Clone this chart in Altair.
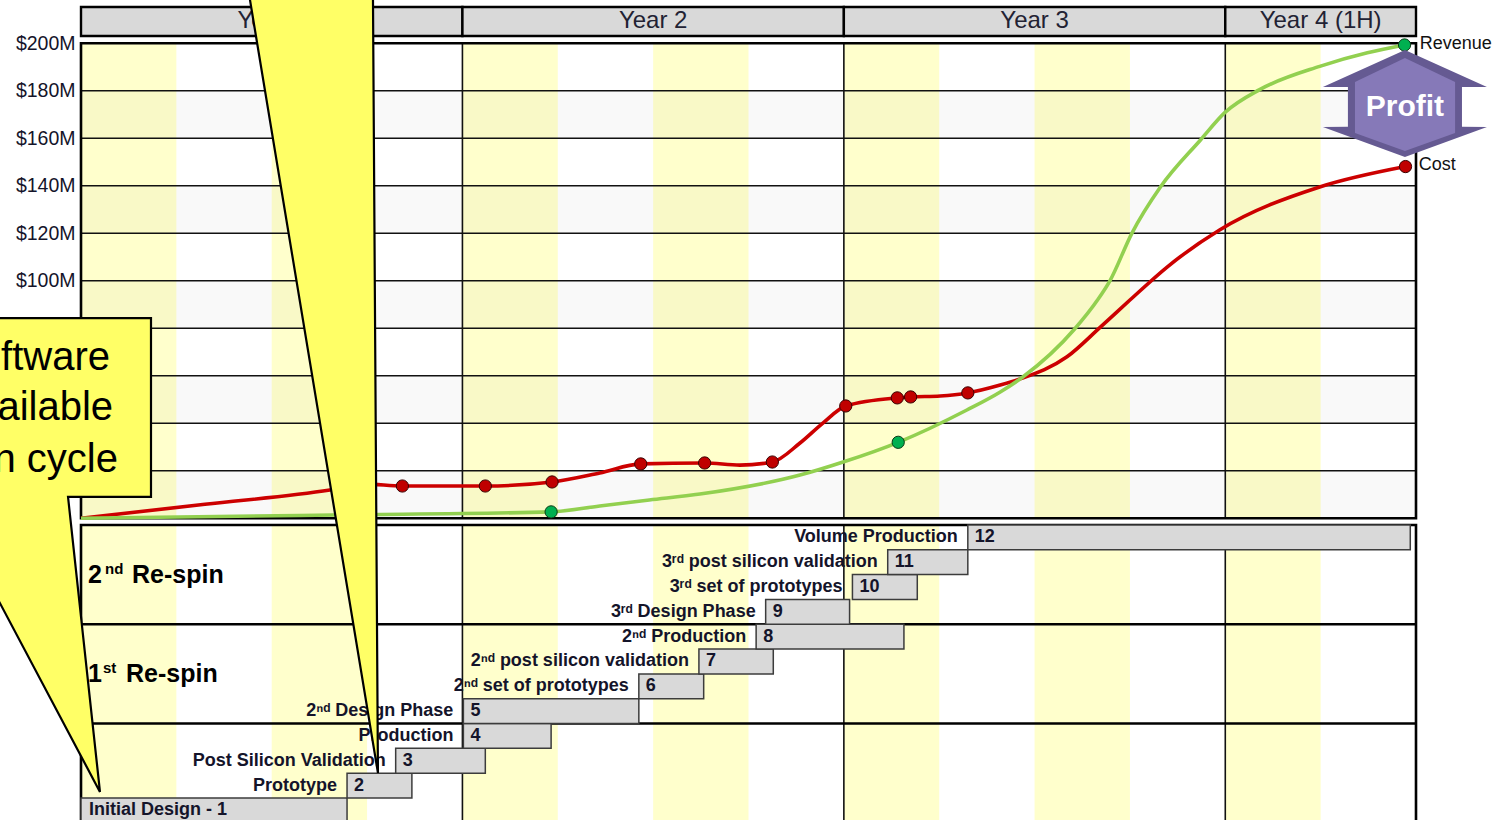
import altair as alt
import pandas as pd

FONT = "Liberation Sans"
INK = "#14142a"

# ------------------------------------------------------------------
# Values
# ------------------------------------------------------------------
year_labels = ["Year 1", "Year 2", "Year 3", "Year 4 (1H)"]
year_start_q = [0, 4, 8, 12]
year_end_q = [4, 8, 12, 14]

money_ticks = [0, 20, 40, 60, 80, 100, 120, 140, 160, 180, 200]
money_labels = [100, 120, 140, 160, 180, 200]

# cumulative cost ($M) against quarters from project start
cost_curve_q = [0, 1.3, 2.61, 2.98, 3.37, 4.24, 4.94, 5.44, 5.87, 6.54, 6.91, 7.25,
                7.54, 7.78, 8.02, 8.56, 8.70, 9.01, 9.30, 9.64, 9.85, 10.34, 10.69,
                11.00, 11.39, 11.94, 12.99, 13.89]
cost_curve_m = [0, 5.9, 11.9, 14.4, 13.6, 13.6, 15.3, 19.1, 22.9, 23.3, 22.4, 23.7,
                31.7, 40.1, 47.3, 50.7, 51.1, 51.5, 52.8, 56.1, 58.7, 68.0, 80.5,
                91.9, 105.8, 121.4, 139.5, 148.1]
cost_marker_q = [3.37, 4.24, 4.94, 5.87, 6.54, 7.25, 8.02, 8.56, 8.70, 9.30, 13.89]
cost_marker_m = [13.6, 13.6, 15.3, 22.9, 23.3, 23.7, 47.3, 50.7, 51.1, 52.8, 148.1]

# cumulative revenue ($M)
rev_curve_q = [0, 2.64, 4.93, 5.44, 5.96, 6.49, 7.54, 8.00, 8.57, 9.29, 9.64, 9.88,
               10.42, 10.66, 10.79, 11.02, 11.32, 11.74, 12.00, 12.36, 12.99, 13.49,
               13.88]
rev_curve_m = [0, 1.4, 2.7, 5.2, 7.7, 10.2, 18.2, 23.8, 32.0, 45.6, 53.2, 59.6,
               79.7, 91.9, 100.0, 120.0, 139.5, 159.3, 171.0, 180.5, 190.3, 196.0,
               199.3]
rev_marker_q = [4.93, 8.57, 13.88]
rev_marker_m = [2.7, 32.0, 199.3]

# project phases (row 1 at the bottom)
phase_labels = ["Initial Design - 1", "Prototype", "Post Silicon Validation",
                "Production", "2\u207f\u1d48 Design Phase",
                "2\u207f\u1d48 set of prototypes",
                "2\u207f\u1d48 post silicon validation", "2\u207f\u1d48 Production",
                "3\u02b3\u1d48  Design Phase", "3\u02b3\u1d48 set of prototypes",
                "3\u02b3\u1d48 post silicon validation", "Volume Production"]
phase_numbers = ["1", "2", "3", "4", "5", "6", "7", "8", "9", "10", "11", "12"]
phase_start_q = [0, 2.79, 3.30, 4.01, 4.01, 5.85, 6.48, 7.08, 7.18, 8.09, 8.46, 9.30]
phase_end_q = [2.79, 3.47, 4.24, 4.93, 5.85, 6.53, 7.26, 8.63, 8.06, 8.77, 9.30, 13.94]
phase_row = list(range(1, 13))

# re-spin sections of the phase table
section_big = ["2", "1"]
section_sup = ["nd", "st"]
section_row = [10, 6]
section_dividers = [4, 8]

# ------------------------------------------------------------------
# Layout
# ------------------------------------------------------------------
W, H = 1335, 820
Q_MAX = 14
ZERO_PX, PX_PER_M = 518.3, 2.375          # $0M position and $M pitch
M_TOP = ZERO_PX / PX_PER_M
M_BOTTOM = (ZERO_PX - H) / PX_PER_M
ROW0_PX, PX_PER_ROW = 822.8, 24.82        # phase table baseline and row pitch
R_TOP = ROW0_PX / PX_PER_ROW
R_BOTTOM = (ROW0_PX - H) / PX_PER_ROW
HEADER_LO, HEADER_HI = 203.1, 215.3       # year strip, in $M units
TABLE_TOP = 12

xq = alt.Scale(domain=[0, Q_MAX], nice=False, zero=False)
ym = alt.Scale(domain=[M_BOTTOM, M_TOP], nice=False, zero=False)
yr = alt.Scale(domain=[R_BOTTOM, R_TOP], nice=False, zero=False)


def X(f):
    return alt.X(f"{f}:Q", scale=xq, axis=None, title=None)


def YM(f, axis=None):
    return alt.Y(f"{f}:Q", scale=ym, axis=axis, title=None)


def YR(f):
    return alt.Y(f"{f}:Q", scale=yr, axis=None, title=None)


# ------------------------------------------------------------------
# Frames
# ------------------------------------------------------------------
band_q0 = [q for q in range(0, Q_MAX, 2)]
plot_bands = pd.DataFrame({"q0": band_q0, "q1": [q + 1 for q in band_q0],
                           "m0": 0, "m1": 200, "r0": 0, "r1": TABLE_TOP})
shade = pd.DataFrame({"m0": money_ticks[0:-1:2], "m1": money_ticks[1::2]})
grid = pd.DataFrame({"m": money_ticks})
years = pd.DataFrame({"label": year_labels, "q0": year_start_q, "q1": year_end_q,
                      "m0": HEADER_LO, "m1": HEADER_HI})
years["qm"] = (years.q0 + years.q1) / 2
years["mm"] = (HEADER_LO + HEADER_HI) / 2
year_lines = pd.DataFrame({"q": year_start_q[1:], "m0": 0, "m1": 200,
                           "r0": 0, "r1": TABLE_TOP})
box = pd.DataFrame({"q0": [0], "q1": [Q_MAX], "m0": [0], "m1": [200],
                    "r0": [0], "r1": [TABLE_TOP]})

yellow_plot = alt.Chart(plot_bands).mark_rect(color="#ffffcc").encode(
    x=X("q0"), x2="q1", y=YM("m0"), y2="m1")
shade_layer = alt.Chart(shade).mark_rect(color="#000000", opacity=0.022).encode(
    x=alt.X("lo:Q", scale=xq, axis=None), x2="hi:Q", y=YM("m0"), y2="m1"
).transform_calculate(lo="0", hi=str(Q_MAX))
grid_layer = alt.Chart(grid).mark_rule(color="#111111", strokeWidth=1.6).encode(
    y=YM("m", axis=alt.Axis(values=money_labels, labelExpr="'$' + datum.value + 'M'",
                            labelFont=FONT, labelFontSize=19.5, labelColor=INK,
                            ticks=False, domain=False, grid=False, labelPadding=6,
                            labelOverlap=False, labelFlush=False, labelBound=False)))
year_rules_plot = alt.Chart(year_lines).mark_rule(color="#111111", strokeWidth=1.6).encode(
    x=X("q"), y=YM("m0"), y2="m1")
plot_box = alt.Chart(box).mark_rect(fillOpacity=0, stroke="#000000", strokeWidth=2.6).encode(
    x=X("q0"), x2="q1", y=YM("m0"), y2="m1")

header = alt.Chart(years).mark_rect(color="#d9d9d9", stroke="#000000", strokeWidth=2.4).encode(
    x=X("q0"), x2="q1", y=YM("m0"), y2="m1")
header_text = alt.Chart(years).mark_text(font=FONT, fontSize=24, color="#222233",
                                         baseline="middle", align="center").encode(
    x=X("qm"), y=YM("mm"), text="label:N")

# ------------------------------------------------------------------
# Phase table
# ------------------------------------------------------------------
phases = pd.DataFrame({"label": phase_labels, "num": phase_numbers,
                       "q0": phase_start_q, "q1": phase_end_q, "row": phase_row})
phases["r0"] = phases.row - 1
phases["rm"] = phases.row - 0.5

yellow_table = alt.Chart(plot_bands).mark_rect(color="#ffffcc").encode(
    x=X("q0"), x2="q1", y=YR("r0"), y2="r1")
year_rules_table = alt.Chart(year_lines).mark_rule(color="#111111", strokeWidth=1.6).encode(
    x=X("q"), y=YR("r0"), y2="r1")
dividers = alt.Chart(pd.DataFrame({"r": section_dividers})).mark_rule(
    color="#000000", strokeWidth=2.6).encode(y=YR("r"))
table_box = alt.Chart(box).mark_rect(fillOpacity=0, stroke="#000000", strokeWidth=2.6).encode(
    x=X("q0"), x2="q1", y=YR("r0"), y2="r1")
bars = alt.Chart(phases).mark_rect(color="#d9d9d9", stroke="#3c3c3c", strokeWidth=1.5).encode(
    x=X("q0"), x2="q1", y=YR("r0"), y2="row")
label_style = dict(font=FONT, fontSize=18, fontWeight="bold", color=INK, baseline="middle")
bar_labels = alt.Chart(phases).transform_filter("datum.row > 1").mark_text(
    align="right", dx=-10, **label_style).encode(x=X("q0"), y=YR("rm"), text="label:N")
first_label = alt.Chart(phases).transform_filter("datum.row == 1").mark_text(
    align="left", dx=8, **label_style).encode(x=X("q0"), y=YR("rm"), text="label:N")
bar_numbers = alt.Chart(phases).transform_filter("datum.row > 1").mark_text(
    align="left", dx=7, **label_style).encode(x=X("q0"), y=YR("rm"), text="num:N")

sections = pd.DataFrame({"big": section_big, "sup": section_sup, "r": section_row,
                         "word": "Re-spin", "q": 0})
sec_style = dict(font=FONT, fontWeight="bold", color="#000000", align="left",
                 baseline="middle")
sec_layers = []
for i, (sup_dx, word_dx) in enumerate([(24, 51), (22, 45)]):
    one = alt.Chart(sections.iloc[[i]])
    sec_layers += [
        one.mark_text(fontSize=25, dx=7, **sec_style).encode(
            x=X("q"), y=YR("r"), text="big:N"),
        one.mark_text(fontSize=15, dx=sup_dx, dy=-6, **sec_style).encode(
            x=X("q"), y=YR("r"), text="sup:N"),
        one.mark_text(fontSize=25, dx=word_dx, **sec_style).encode(
            x=X("q"), y=YR("r"), text="word:N"),
    ]

# ------------------------------------------------------------------
# Cost and revenue curves
# ------------------------------------------------------------------
cost = pd.DataFrame({"q": cost_curve_q, "m": cost_curve_m})
rev = pd.DataFrame({"q": rev_curve_q, "m": rev_curve_m})
cost_pts = pd.DataFrame({"q": cost_marker_q, "m": cost_marker_m})
rev_pts = pd.DataFrame({"q": rev_marker_q, "m": rev_marker_m})

cost_line = alt.Chart(cost).mark_line(color="#cc0000", strokeWidth=3.6,
                                      interpolate="monotone").encode(x=X("q"), y=YM("m"))
rev_line = alt.Chart(rev).mark_line(color="#92d050", strokeWidth=3.6,
                                    interpolate="monotone").encode(x=X("q"), y=YM("m"))
cost_dots = alt.Chart(cost_pts).mark_circle(size=150, color="#c00000", opacity=1,
                                            stroke="#3a0000", strokeWidth=1).encode(
    x=X("q"), y=YM("m"))
rev_dots = alt.Chart(rev_pts).mark_circle(size=150, color="#00b050", opacity=1,
                                          stroke="#0b3a16", strokeWidth=1).encode(
    x=X("q"), y=YM("m"))

end_labels = pd.DataFrame({"text": ["Revenue", "Cost"], "q": [14.04, 14.03],
                           "m": [199.7, 148.8]})
end_text = alt.Chart(end_labels).mark_text(font=FONT, fontSize=18, color="#111111",
                                           align="left", baseline="middle").encode(
    x=X("q"), y=YM("m"), text="text:N")

# profit marker between the two end points
profit_outer = pd.DataFrame({
    "m": [197.2, 181.6, 181.55, 164.85, 164.8, 152.1],
    "ql": [13.884, 13.024, 13.286, 13.286, 13.024, 13.884],
    "qr": [13.884, 14.744, 14.482, 14.482, 14.744, 13.884]})
profit_inner = pd.DataFrame({
    "m": [193.8, 183.7, 162.2, 154.7],
    "ql": [13.884, 13.36, 13.36, 13.884],
    "qr": [13.884, 14.41, 14.41, 13.884]})
profit_a = alt.Chart(profit_outer).mark_area(orient="horizontal", color="#655a92").encode(
    y=YM("m"), x=X("ql"), x2="qr")
profit_b = alt.Chart(profit_inner).mark_area(orient="horizontal", color="#8679b8").encode(
    y=YM("m"), x=X("ql"), x2="qr")
profit_t = alt.Chart(pd.DataFrame({"t": ["Profit"], "q": [13.884], "m": [173.2]})).mark_text(
    font=FONT, fontSize=30, fontWeight="bold", color="#ffffff", align="center",
    baseline="middle").encode(x=X("q"), y=YM("m"), text="t:N")

# ------------------------------------------------------------------
# Callouts
# ------------------------------------------------------------------
pointer_top = pd.DataFrame({"m": [230.9, -107.2], "ql": [1.72, 3.114], "qr": [3.06, 3.114]})
pointer_left = pd.DataFrame({"m": [84.3, 9.0, 8.99, -115.2],
                             "ql": [-2.11, -2.11, -1.44, 0.199],
                             "qr": [0.734, 0.734, -0.136, 0.199]})
callout_style = dict(orient="horizontal", color="#ffff66", stroke="#000000",
                     strokeWidth=2.2, opacity=1)
call_top = alt.Chart(pointer_top).mark_area(**callout_style).encode(
    y=YM("m"), x=X("ql"), x2="qr")
call_left = alt.Chart(pointer_left).mark_area(**callout_style).encode(
    y=YM("m"), x=X("ql"), x2="qr")
call_lines = pd.DataFrame({"t": ["Software", "available", "late in design cycle"],
                           "q": [0.304, 0.336, 0.388], "m": [67.5, 46.4, 24.5]})
call_text = alt.Chart(call_lines).mark_text(font=FONT, fontSize=40, color="#000000",
                                            align="right", baseline="middle").encode(
    x=X("q"), y=YM("m"), text="t:N")

chart = alt.layer(
    yellow_plot, shade_layer, grid_layer, year_rules_plot, plot_box,
    header, header_text,
    yellow_table, year_rules_table, dividers, table_box, bars,
    bar_labels, first_label, bar_numbers, *sec_layers,
    cost_line, rev_line, cost_dots, rev_dots, end_text,
    profit_a, profit_b, profit_t,
    call_top, call_left, call_text,
).resolve_scale(y="independent").properties(
    width=W, height=H,
    autosize=alt.AutoSizeParams(type="none"),
    padding={"left": 81, "top": 0, "right": 86, "bottom": 0},
    background="#ffffff",
).configure_view(strokeWidth=0)

chart.save("out.html", embed_options={"renderer": "svg", "actions": False})
